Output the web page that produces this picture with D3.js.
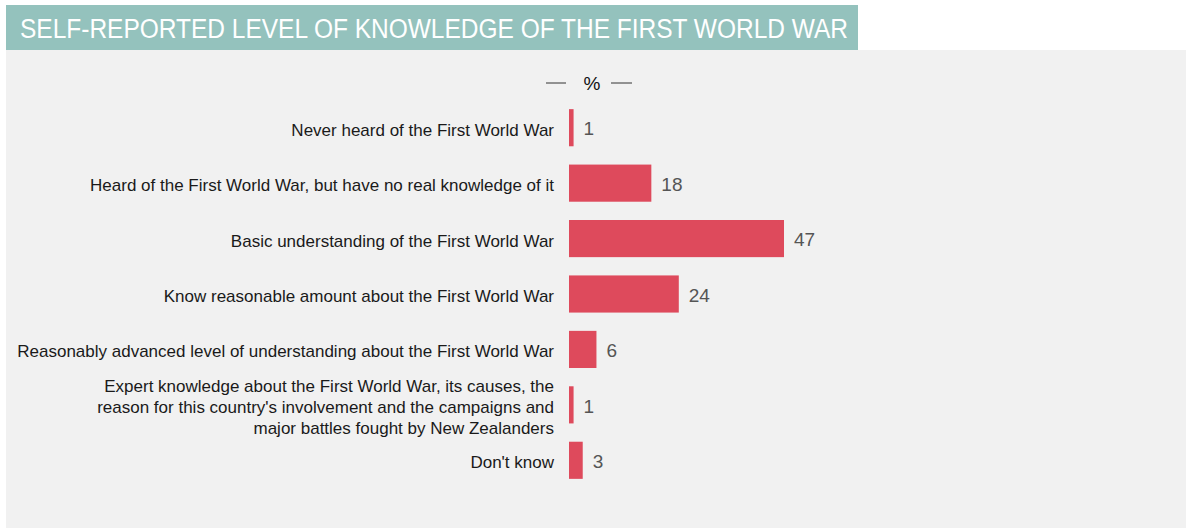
<!DOCTYPE html>
<html>
<head>
<meta charset="utf-8">
<script src="https://cdn.jsdelivr.net/npm/d3@7"></script>
<style>
  html, body { margin: 0; padding: 0; background: #ffffff; }
  svg { display: block; }
  text { font-family: "Liberation Sans", Arial, sans-serif; }
</style>
</head>
<body>
<svg id="chart" width="1186" height="528"></svg>
<script>
// Survey answers, in display order
const categories = [
  "Never heard of the First World War",
  "Heard of the First World War, but have no real knowledge of it",
  "Basic understanding of the First World War",
  "Know reasonable amount about the First World War",
  "Reasonably advanced level of understanding about the First World War",
  "Expert knowledge about the First World War, its causes, the\nreason for this country's involvement and the campaigns and\nmajor battles fought by New Zealanders",
  "Don't know"
];
// Share of respondents (%)
const values = [1, 18, 47, 24, 6, 1, 3];

const titleText = "SELF-REPORTED LEVEL OF KNOWLEDGE OF THE FIRST WORLD WAR";
const unitLabel = "%";

const svg = d3.select("#chart");
const W = 1186, H = 528;

// Grey panel and title band
svg.append("rect").attr("x", 6).attr("y", 50).attr("width", W - 6).attr("height", H - 50).attr("fill", "#f1f1f1");
svg.append("rect").attr("x", 6).attr("y", 5).attr("width", 852).attr("height", 45).attr("fill", "#94c2bd");
svg.append("text")
  .attr("x", 20).attr("y", 38)
  .attr("fill", "#ffffff")
  .attr("font-family", "Roboto, 'Liberation Sans', sans-serif")
  .attr("font-weight", 300)
  .attr("font-size", 27)
  .attr("textLength", 828)
  .attr("lengthAdjust", "spacingAndGlyphs")
  .text(titleText);

// Scales
const x = d3.scaleLinear().domain([0, 47]).range([569, 784]);
const y = d3.scaleBand().domain(categories).range([100, 488]).paddingInner(0.33).paddingOuter(0.165);

// Unit legend: — % —
const legend = svg.append("g");
legend.append("text").attr("x", 592).attr("y", 90).attr("text-anchor", "middle")
  .attr("font-size", 19).attr("fill", "#111").text(unitLabel);
legend.append("line").attr("x1", 546).attr("x2", 566).attr("y1", 83).attr("y2", 83).attr("stroke", "#333").attr("stroke-width", 1);
legend.append("line").attr("x1", 611).attr("x2", 632).attr("y1", 83).attr("y2", 83).attr("stroke", "#333").attr("stroke-width", 1);

// Bars
svg.append("g").selectAll("rect")
  .data(categories)
  .join("rect")
  .attr("x", x(0))
  .attr("y", d => y(d))
  .attr("width", (d, i) => x(values[i]) - x(0))
  .attr("height", y.bandwidth())
  .attr("fill", "#de4a5c");

// Value labels
svg.append("g").selectAll("text")
  .data(categories)
  .join("text")
  .attr("x", (d, i) => x(values[i]) + 10)
  .attr("y", d => y(d) + y.bandwidth() / 2 + 1)
  .attr("dy", "0.35em")
  .attr("font-size", 19)
  .attr("fill", "#555")
  .text((d, i) => values[i]);

// Category labels (right aligned, multi-line where needed)
const lineH = 21;
const cat = svg.append("g").selectAll("text")
  .data(categories)
  .join("text")
  .attr("text-anchor", "end")
  .attr("font-size", 17)
  .attr("fill", "#1a1a1a")
  .attr("y", d => y(d) + y.bandwidth() / 2);
cat.each(function(d) {
  const lines = d.split("\n");
  const t = d3.select(this);
  const off = -(lines.length - 1) / 2 * lineH;
  lines.forEach((ln, k) => {
    t.append("tspan")
      .attr("x", 554)
      .attr("dy", k === 0 ? (off + 8) : lineH)
      .text(ln);
  });
});
</script>
</body>
</html>
